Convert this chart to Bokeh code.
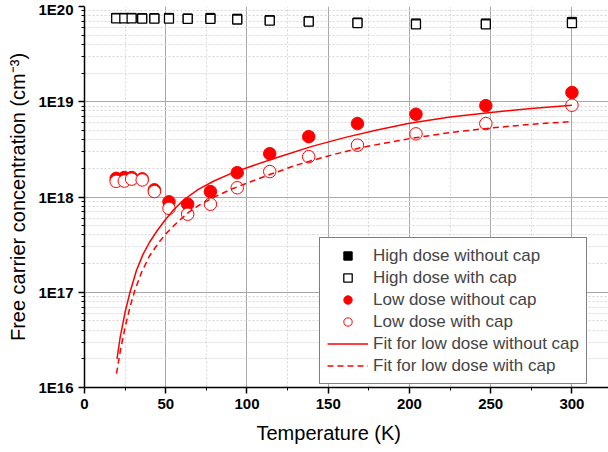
from bokeh.plotting import figure
from bokeh.models import (Range1d, FixedTicker, CustomJSTickFormatter, Legend,
                          LegendItem, Title)
from bokeh.embed import file_html
from bokeh.resources import INLINE

# Measurement temperatures (K)
temperature = [19.5, 24.5, 29, 35.5, 43, 52, 63.5, 77.5, 94, 114, 138, 168, 204, 247, 300]

# Free carrier concentration (cm^-3)
high_dose_without_cap = [7.6e19, 7.6e19, 7.6e19, 7.55e19, 7.55e19, 7.6e19, 7.5e19, 7.6e19,
                         7.45e19, 7.2e19, 7.0e19, 6.8e19, 6.65e19, 6.65e19, 6.9e19]
high_dose_with_cap = [7.5e19, 7.5e19, 7.5e19, 7.45e19, 7.45e19, 7.45e19, 7.4e19, 7.4e19,
                      7.3e19, 7.1e19, 6.95e19, 6.7e19, 6.5e19, 6.5e19, 6.7e19]
low_dose_without_cap = [1.57e18, 1.6e18, 1.6e18, 1.55e18, 1.19e18, 8.9e17, 8.4e17, 1.14e18,
                        1.8e18, 2.85e18, 4.3e18, 5.9e18, 7.4e18, 9.1e18, 1.25e19]
low_dose_with_cap = [1.46e18, 1.47e18, 1.54e18, 1.51e18, 1.14e18, 7.6e17, 6.6e17, 8.4e17,
                     1.25e18, 1.85e18, 2.65e18, 3.5e18, 4.6e18, 5.9e18, 9.2e18]

# Fitted curves
fit_temp_without_cap = [20, 22, 25, 28, 32, 36, 40, 45, 50, 55, 61, 70, 80, 90, 100, 120,
                        140, 160, 180, 200, 225, 250, 275, 300]
fit_without_cap = [2.0e16, 3.4e16, 6.2e16, 1.0e17, 1.7e17, 2.5e17, 3.35e17, 4.5e17, 5.85e17,
                   7.4e17, 9.3e17, 1.2e18, 1.48e18, 1.76e18, 2.03e18, 2.65e18, 3.4e18, 4.2e18,
                   5.05e18, 5.95e18, 6.9e18, 7.7e18, 8.5e18, 9.2e18]
fit_temp_with_cap = [19.7, 22, 25, 28, 31, 35, 40, 45, 50, 55, 60, 64, 70, 80, 90, 100, 114,
                     130, 150, 170, 200, 225, 250, 275, 300]
fit_with_cap = [1.4e16, 2.4e16, 4.3e16, 7.0e16, 1.05e17, 1.6e17, 2.4e17, 3.2e17, 4.1e17,
                5.0e17, 6.0e17, 6.9e17, 8.1e17, 1.0e18, 1.2e18, 1.4e18, 1.72e18, 2.15e18,
                2.7e18, 3.3e18, 4.1e18, 4.75e18, 5.3e18, 5.8e18, 6.2e18]

x_ticks = [0, 50, 100, 150, 200, 250, 300]
x_minor_ticks = [25, 75, 125, 175, 225, 275]
y_ticks = [1e16, 1e17, 1e18, 1e19, 1e20]
y_minor_ticks = [m * 10.0 ** e for e in range(16, 20) for m in range(2, 10)]

RED = "#ff0000"
FONT = "Liberation Sans"

p = figure(width=608, height=452, x_range=Range1d(0, 322.5), y_range=Range1d(1e16, 1e20),
           y_axis_type="log", output_backend="svg", toolbar_location=None,
           min_border_left=84, min_border_right=0, min_border_top=6, min_border_bottom=65)
p.outline_line_color = None
p.background_fill_color = "white"

# axes
p.xaxis.ticker = FixedTicker(ticks=x_ticks, minor_ticks=x_minor_ticks)
p.yaxis.ticker = FixedTicker(ticks=y_ticks, minor_ticks=y_minor_ticks)
p.yaxis.formatter = CustomJSTickFormatter(code="return '1E' + Math.round(Math.log10(tick));")
for ax in (p.xaxis[0], p.yaxis[0]):
    ax.axis_line_color = "black"
    ax.axis_line_width = 1.5
    ax.major_tick_line_color = "black"
    ax.major_tick_line_width = 1.5
    ax.minor_tick_line_color = "black"
    ax.minor_tick_line_width = 1
    ax.major_tick_out = 6
    ax.major_tick_in = 0
    ax.minor_tick_out = 3
    ax.minor_tick_in = 0
    ax.major_label_text_font = FONT
    ax.major_label_text_font_style = "bold"
    ax.major_label_text_font_size = "15px"
    ax.major_label_text_color = "black"
    ax.major_label_standoff = 5
p.yaxis.axis_label = "Free carrier concentration (cm\u207b\u00b3)"
p.yaxis.axis_label_text_font = FONT
p.yaxis.axis_label_text_font_style = "normal"
p.yaxis.axis_label_text_font_size = "20px"
p.yaxis.axis_label_text_color = "black"
p.yaxis.axis_label_standoff = 6

# grids
for g in (p.xgrid[0], p.ygrid[0]):
    g.grid_line_color = "#a8a8a8"
    g.grid_line_width = 1
    g.minor_grid_line_color = "#d6d6d6"
    g.minor_grid_line_dash = "2 2"
    g.minor_grid_line_width = 1

# data
r_hw = p.scatter(temperature, high_dose_without_cap, marker="square", size=9,
                 fill_color="black", line_color="black")
r_hc = p.scatter(temperature, high_dose_with_cap, marker="square", size=9,
                 fill_color="white", line_color="black", line_width=1.3)
r_lw = p.scatter(temperature, low_dose_without_cap, marker="circle", size=12.5,
                 fill_color=RED, line_color=RED)
r_lc = p.scatter(temperature, low_dose_with_cap, marker="circle", size=12.5,
                 fill_color="white", line_color=RED, line_width=1)
r_fw = p.line(fit_temp_without_cap, fit_without_cap, line_color=RED, line_width=1.5)
r_fc = p.line(fit_temp_with_cap, fit_with_cap, line_color=RED, line_width=1.5,
              line_dash="6 4")

legend = Legend(items=[
    LegendItem(label="High dose without cap", renderers=[r_hw]),
    LegendItem(label="High dose with cap", renderers=[r_hc]),
    LegendItem(label="Low dose without cap", renderers=[r_lw]),
    LegendItem(label="Low dose with cap", renderers=[r_lc]),
    LegendItem(label="Fit for low dose without cap", renderers=[r_fw]),
    LegendItem(label="Fit for low dose with cap", renderers=[r_fc]),
], location=(235, 3))
legend.label_text_font = FONT
legend.label_text_font_size = "17px"
legend.glyph_width = 41
legend.glyph_height = 21
legend.label_height = 21
legend.spacing = 1
legend.padding = 7
legend.margin = 0
legend.label_standoff = 5
legend.border_line_color = "black"
legend.border_line_width = 1
legend.background_fill_color = "white"
legend.background_fill_alpha = 1
p.add_layout(legend)

xtitle = Title(text="Temperature (K)", align="left", offset=172, standoff=17,
               text_font=FONT, text_font_size="20px", text_font_style="normal",
               text_color="black")
p.add_layout(xtitle, "below")

open("out.html", "w").write(file_html(p, INLINE))
